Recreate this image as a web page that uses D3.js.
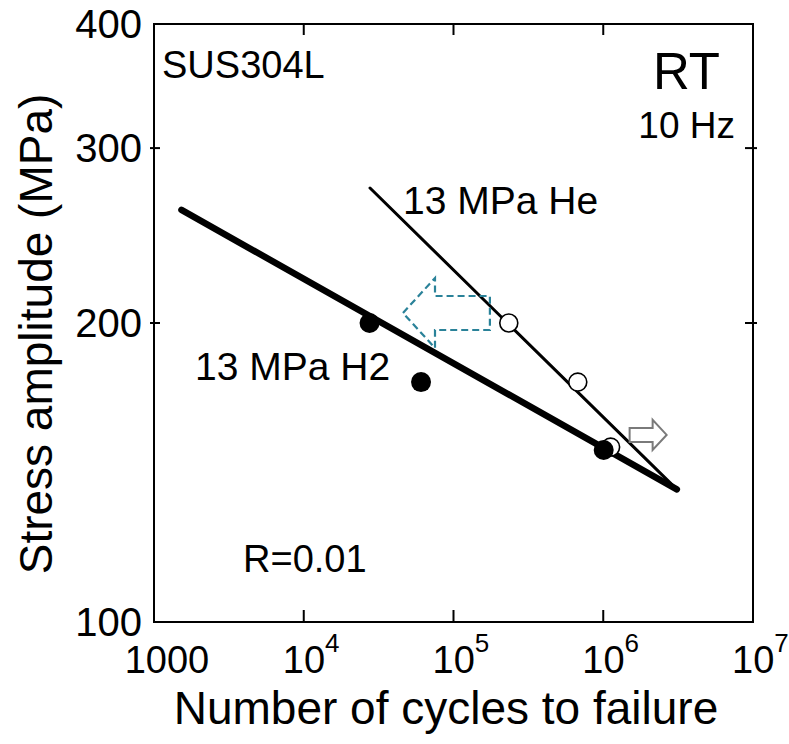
<!DOCTYPE html>
<html><head><meta charset="utf-8">
<script src="https://cdn.jsdelivr.net/npm/d3@7"></script>
<style>body{margin:0;background:#fff}svg{display:block}text{font-family:"Liberation Sans",Arial,sans-serif;fill:#000}</style>
</head><body>
<script>
// ---- data ----
const h2Cycles = [27500, 60700, 1007000];
const h2Stress = [200, 174.4, 149];
const heCycles = [234000, 676000, 1120000];
const heStress = [200, 174.4, 150];
const h2LineCycles = [1525, 3100000];
const h2LineStress = [260, 136];
const heLineCycles = [27700, 3100000];
const heLineStress = [273.5, 136];
const xTickValues = [1000, 1e4, 1e5, 1e6, 1e7];
const xTickLabels = ["1000", "10|4", "10|5", "10|6", "10|7"];
const yTickValues = [100, 200, 300, 400];
const yTickLabels = ["100", "200", "300", "400"];
const runoutArrow = {from: 1500000, to: 2650000, stress: 154.3};
const shiftArrow = {tip: 46000, tail: 175000, stress: 204.7};

const W = 789, H = 744;
const svg = d3.select("body").append("svg").attr("width", W).attr("height", H);
const x = d3.scaleLog().domain([1000, 1e7]).range([154, 753]);
const y = d3.scaleLog().domain([100, 400]).range([622, 24]);

// frame
svg.append("rect").attr("x", x(1000)).attr("y", y(400))
  .attr("width", x(1e7) - x(1000)).attr("height", y(100) - y(400))
  .attr("fill", "none").attr("stroke", "#000").attr("stroke-width", 2);

// x ticks (bottom + top inward)
const xInner = xTickValues.slice(1, -1);
xInner.forEach(v => {
  svg.append("line").attr("x1", x(v)).attr("x2", x(v)).attr("y1", y(100)).attr("y2", y(100) - 12).attr("stroke", "#000").attr("stroke-width", 2);
  svg.append("line").attr("x1", x(v)).attr("x2", x(v)).attr("y1", y(400)).attr("y2", y(400) + 11).attr("stroke", "#000").attr("stroke-width", 2);
});
// y ticks
[200, 300].forEach(v => {
  svg.append("line").attr("x1", x(1000) - 4).attr("x2", x(1000) + 6).attr("y1", y(v)).attr("y2", y(v)).attr("stroke", "#000").attr("stroke-width", 2);
  svg.append("line").attr("x1", x(1e7) - 8).attr("x2", x(1e7) + 4).attr("y1", y(v)).attr("y2", y(v)).attr("stroke", "#000").attr("stroke-width", 2);
});

// y tick labels
yTickValues.forEach((v, i) => {
  svg.append("text").attr("x", 142).attr("y", y(v) + 14).attr("text-anchor", "end")
    .attr("font-size", 40).text(yTickLabels[i]);
});
// x tick labels
xTickValues.forEach((v, i) => {
  const lab = xTickLabels[i];
  if (lab.indexOf("|") < 0) {
    svg.append("text").attr("x", x(v) + 13).attr("y", 673).attr("text-anchor", "middle")
      .attr("font-size", 38).text(lab);
  } else {
    const [base, sup] = lab.split("|");
    const t = svg.append("text").attr("x", x(v) - 21).attr("y", 673).attr("font-size", 38);
    t.append("tspan").text(base);
    t.append("tspan").attr("dy", -21).attr("font-size", 26).text(sup);
  }
});

// axis titles
svg.append("text").attr("x", 446).attr("y", 724).attr("text-anchor", "middle")
  .attr("font-size", 46).text("Number of cycles to failure");
svg.append("text").attr("transform", "translate(52,334) rotate(-90)").attr("text-anchor", "middle")
  .attr("font-size", 46).text("Stress amplitude (MPa)");

// fit lines
const line = d3.line().x(d => x(d[0])).y(d => y(d[1]));
svg.append("path").attr("d", line(heLineCycles.map((c, i) => [c, heLineStress[i]])))
  .attr("stroke", "#000").attr("stroke-width", 3).attr("fill", "none").attr("stroke-linecap", "round");
svg.append("path").attr("d", line(h2LineCycles.map((c, i) => [c, h2LineStress[i]])))
  .attr("stroke", "#000").attr("stroke-width", 6.5).attr("fill", "none").attr("stroke-linecap", "round");

// open circles (He)
heCycles.forEach((c, i) => {
  svg.append("circle").attr("cx", x(c)).attr("cy", y(heStress[i])).attr("r", 9)
    .attr("fill", "#fff").attr("stroke", "#000").attr("stroke-width", 1.6);
});
// filled circles (H2)
h2Cycles.forEach((c, i) => {
  svg.append("circle").attr("cx", x(c)).attr("cy", y(h2Stress[i])).attr("r", 10).attr("fill", "#000");
});

// runout arrow (grey outline, pointing right)
{
  const x0 = x(runoutArrow.from), x1 = x(runoutArrow.to), yc = y(runoutArrow.stress);
  const hl = 14, sh = 7, hh = 15;
  const pts = [[x0, yc - sh], [x1 - hl, yc - sh], [x1 - hl, yc - hh], [x1, yc], [x1 - hl, yc + hh], [x1 - hl, yc + sh], [x0, yc + sh]];
  svg.append("polygon").attr("points", pts.map(p => p.join(",")).join(" "))
    .attr("fill", "#fff").attr("stroke", "#7a7a7a").attr("stroke-width", 2);
}
// dashed blue arrow (pointing left)
{
  const xt = x(shiftArrow.tip), xe = x(shiftArrow.tail), yc = y(shiftArrow.stress);
  const hl = 32, sh = 17, hh = 35;
  const pts = [[xt, yc], [xt + hl, yc - hh], [xt + hl, yc - sh], [xe, yc - sh], [xe, yc + sh], [xt + hl, yc + sh], [xt + hl, yc + hh]];
  svg.append("polygon").attr("points", pts.map(p => p.join(",")).join(" "))
    .attr("fill", "none").attr("stroke", "#2a8299").attr("stroke-width", 2.2).attr("stroke-dasharray", "7,4");
}

// annotations
svg.append("text").attr("x", 162).attr("y", 78).attr("font-size", 38).text("SUS304L");
svg.append("text").attr("x", 720).attr("y", 89).attr("text-anchor", "end").attr("font-size", 51).text("RT");
svg.append("text").attr("x", 735).attr("y", 138).attr("text-anchor", "end").attr("font-size", 37).text("10 Hz");
svg.append("text").attr("x", 403).attr("y", 214).attr("font-size", 39).text("13 MPa He");
svg.append("text").attr("x", 195).attr("y", 380).attr("font-size", 39).text("13 MPa H2");
svg.append("text").attr("x", 243).attr("y", 572).attr("font-size", 38).text("R=0.01");
</script>
</body></html>
